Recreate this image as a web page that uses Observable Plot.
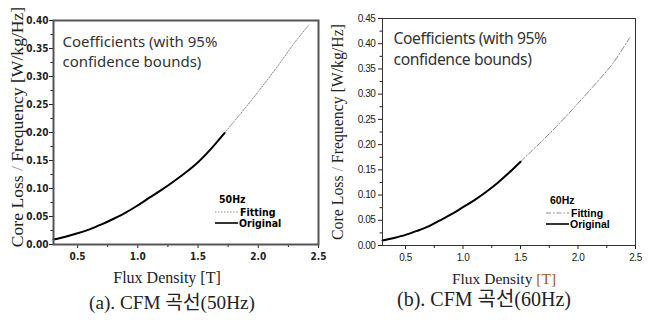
<!DOCTYPE html>
<html><head><meta charset="utf-8">
<script src="https://cdn.jsdelivr.net/npm/d3@7"></script>
<script src="https://cdn.jsdelivr.net/npm/@observablehq/plot@0.6"></script>
<style>
body{margin:0;background:#fff;}
#wrap{position:relative;width:654px;height:320px;overflow:hidden;background:#fff;}
.panel{position:absolute;top:0;}
.lab{position:absolute;white-space:nowrap;font-family:"Liberation Serif","Times New Roman",serif;color:#222;line-height:1;}
.ylab{transform:translate(-50%,-50%) rotate(-90deg);}
.xlab{transform:translate(-50%,-50%);}
.cap{position:absolute;white-space:nowrap;transform:translate(-50%,-50%);font-family:"Liberation Serif","Noto Sans CJK KR",serif;color:#222;line-height:1;}
.leg{position:absolute;overflow:visible;}
</style>
</head><body>
<div id="wrap">
  <div id="pa" class="panel" style="left:0"></div>
  <div id="pb" class="panel" style="left:327px"></div>
</div>
<script>
// ---- data ----
const titleA = "(a). CFM 곡선(50Hz)";
const titleB = "(b). CFM 곡선(60Hz)";
const note = "Coefficients (with 95%\nconfidence bounds)";
const yLabel = ["Core Loss ", "/", " Frequency [W/kg/Hz]"];
const xLabel = ["Flux Density ", "[T]"];
const seriesNames = ["Fitting", "Original"];

// 50 Hz
const origB50 = [0.3,0.4,0.5,0.6,0.7,0.8,0.9,1.0,1.1,1.2,1.3,1.4,1.5,1.6,1.7,1.72];
const orig50  = [0.009,0.014,0.020,0.027,0.036,0.046,0.057,0.070,0.084,0.098,0.113,0.129,0.147,0.169,0.194,0.199];
const fitB50  = [0.3,0.4,0.5,0.6,0.7,0.8,0.9,1.0,1.1,1.2,1.3,1.4,1.5,1.6,1.7,1.8,1.9,2.0,2.1,2.2,2.3,2.42];
const fit50   = [0.009,0.014,0.020,0.027,0.036,0.046,0.057,0.070,0.084,0.098,0.113,0.129,0.147,0.169,0.194,0.220,0.246,0.273,0.301,0.330,0.360,0.392];

// 60 Hz
const origB60 = [0.3,0.4,0.5,0.6,0.7,0.8,0.9,1.0,1.1,1.2,1.3,1.4,1.5];
const orig60  = [0.010,0.015,0.021,0.029,0.038,0.050,0.062,0.076,0.090,0.106,0.124,0.144,0.166];
const fitB60  = [0.3,0.4,0.5,0.6,0.7,0.8,0.9,1.0,1.1,1.2,1.3,1.4,1.5,1.6,1.7,1.8,1.9,2.0,2.1,2.2,2.3,2.45];
const fit60   = [0.010,0.015,0.021,0.029,0.038,0.050,0.062,0.076,0.090,0.106,0.124,0.144,0.166,0.188,0.210,0.233,0.257,0.282,0.307,0.333,0.360,0.412];

// ticks
const xMajor = [0.5,1.0,1.5,2.0,2.5];
const xMinor = [0.75,1.25,1.75,2.25];
const yMajorA = [0,0.05,0.10,0.15,0.20,0.25,0.30,0.35,0.40];
const yMinorA = [0.025,0.075,0.125,0.175,0.225,0.275,0.325,0.375];
const yMajorB = [0,0.05,0.10,0.15,0.20,0.25,0.30,0.35,0.40,0.45];
const yMinorB = [0.025,0.075,0.125,0.175,0.225,0.275,0.325,0.375,0.425];

const rows = (xs, ys) => xs.map((b, i) => ({B: b, v: ys[i]}));

function panel(cfg) {
  return Plot.plot({
    width: 327, height: 268,
    marginLeft: cfg.ml, marginRight: cfg.mr, marginTop: cfg.mt, marginBottom: cfg.mb,
    x: {domain: [0.3, 2.5], label: null},
    y: {domain: cfg.ydom, label: null},
    style: {fontFamily: cfg.tickFont, fontSize: "10px", fontWeight: cfg.tickWeight, color: "#222", background: "transparent", overflow: "visible", letterSpacing: cfg.ls},
    marks: [
      Plot.axisX(xMajor, {tickSize: 4, tickPadding: 4, tickFormat: d3.format(".1f"), label: null}),
      Plot.axisX(xMinor, {tickSize: 3, tickFormat: () => "", label: null}),
      Plot.axisY(cfg.yMajor, {tickSize: 4, tickPadding: cfg.ytp, tickFormat: d3.format(".2f"), label: null}),
      Plot.axisY(cfg.yMinor, {tickSize: 2.5, tickFormat: () => "", label: null}),
      Plot.line(cfg.fit, {x: "B", y: "v", stroke: "#8a8a8a", strokeWidth: 1, strokeDasharray: cfg.dash, curve: "catmull-rom"}),
      Plot.line(cfg.orig, {x: "B", y: "v", stroke: "#000", strokeWidth: 2, curve: "catmull-rom"}),
      Plot.frame({stroke: cfg.frameColor, strokeWidth: cfg.frameWidth}),
      Plot.text([note], {text: d => d, frameAnchor: "top-left", lineAnchor: "top", textAnchor: "start",
        dx: cfg.ndx, dy: cfg.ndy, lineHeight: 1.33, fontSize: cfg.nfs, fontWeight: "normal",
        fontFamily: "'Noto Sans', 'Open Sans', sans-serif", fill: "#333", letterSpacing: "-0.3px"})
    ]
  });
}

const A = panel({ml: 53, mr: 9, mt: 20, mb: 24, ydom: [0, 0.40], yMajor: yMajorA, yMinor: yMinorA, ytp: 1,
  tickFont: "'Liberation Sans Narrow','DejaVu Sans Condensed',sans-serif", tickWeight: "bold", ls: "0px",
  fit: rows(fitB50, fit50), orig: rows(origB50, orig50), dash: "1.5,1.5",
  frameColor: "#555", frameWidth: 2, ndx: 9, ndy: 12, nfs: 15});
const Bp = panel({ml: 55, mr: 19, mt: 18, mb: 23, ydom: [0, 0.45], yMajor: yMajorB, yMinor: yMinorB, ytp: 3,
  tickFont: "'Liberation Sans',Arial,sans-serif", tickWeight: "normal", ls: "-0.4px",
  fit: rows(fitB60, fit60), orig: rows(origB60, orig60), dash: "6,2,1.5,2",
  frameColor: "#333", frameWidth: 1, ndx: 11, ndy: 11, nfs: 15.7});
document.getElementById("pa").appendChild(A);
document.getElementById("pb").appendChild(Bp);

const wrap = document.getElementById("wrap");
function addDiv(cls, style, html) {
  const d = document.createElement("div");
  d.className = cls; d.setAttribute("style", style); d.innerHTML = html;
  wrap.appendChild(d); return d;
}
const yHtml = `${yLabel[0]}<span style="color:#999">${yLabel[1]}</span>${yLabel[2]}`;
addDiv("lab ylab", "left:18px;top:127px;font-size:17.6px;", yHtml);
addDiv("lab ylab", "left:338px;top:132px;font-size:15.8px;", yHtml);
addDiv("lab xlab", "left:167px;top:278px;font-size:16px;", `${xLabel[0]}${xLabel[1]}`);
addDiv("lab xlab", "left:504px;top:279px;font-size:15.5px;", `${xLabel[0]}<span style="color:#9c5b1e">${xLabel[1]}</span>`);
addDiv("cap", "left:172px;top:303px;font-size:19.2px;", titleA);
addDiv("cap", "left:484px;top:299px;font-size:20px;", titleB);

// legends
function legend(x, y, freq, dash, font, fs) {
  const s = d3.create("svg").attr("class", "leg").attr("width", 80).attr("height", 44)
    .style("left", x + "px").style("top", y + "px")
    .style("font-family", font).style("font-weight", "bold").style("font-size", fs + "px");
  s.append("text").attr("x", 7).attr("y", 7).attr("dy", "0.35em").text(freq);
  s.append("line").attr("x1", 3).attr("x2", 26).attr("y1", 20).attr("y2", 20)
    .attr("stroke", "#8a8a8a").attr("stroke-width", 1).attr("stroke-dasharray", dash);
  s.append("text").attr("x", 28).attr("y", 20).attr("dy", "0.35em").text(seriesNames[0]);
  s.append("line").attr("x1", 3).attr("x2", 26).attr("y1", 31).attr("y2", 31)
    .attr("stroke", "#000").attr("stroke-width", 1.6);
  s.append("text").attr("x", 27).attr("y", 31).attr("dy", "0.35em").text(seriesNames[1]);
  wrap.appendChild(s.node());
}
legend(212, 192, "50Hz", "1.5,1.5", "'Liberation Sans Narrow','DejaVu Sans Condensed',sans-serif", 10.5);
legend(543, 193, "60Hz", "5,2,1.5,2", "'Liberation Sans',Arial,sans-serif", 10.5);
</script>
</body></html>
